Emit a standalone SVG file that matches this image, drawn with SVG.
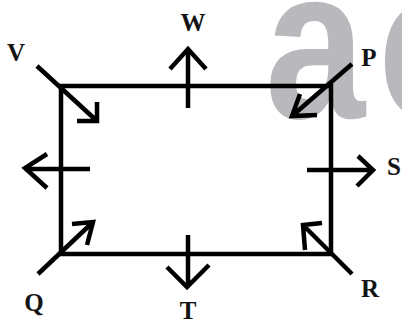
<svg xmlns="http://www.w3.org/2000/svg" width="402" height="323" viewBox="0 0 402 323">
<style>
.ln{fill:none;stroke:#000;stroke-width:4.5;stroke-linejoin:miter;stroke-linecap:butt}
.lb{font-family:"Liberation Serif","Times New Roman",serif;font-weight:bold;font-size:25px;fill:#141414;text-anchor:middle}
.wm{font-family:"Liberation Sans",Arial,sans-serif;font-weight:bold;font-size:180px;fill:#b9b9bd;letter-spacing:13px}
</style>
<rect width="402" height="323" fill="#fff"/>
<g id="watermark">
<text class="wm" transform="translate(265,118) scale(1,1.2)" x="0" y="0">ac</text>
</g>
<g id="frame">
<rect class="ln" x="61" y="86" width="270" height="168"/>
</g>
<g id="connectors">
<path class="ln" d="M37,66 L97,121 M97,102 L97,121 L77,121"/>
<path class="ln" d="M188,108 L188,50 M170,69 L188,49 L206,69"/>
<path class="ln" d="M352,64 L292,116 M300,94 L292,116 L317,115"/>
<path class="ln" d="M90,169 L27,169 M47,154 L25,168 L47,188"/>
<path class="ln" d="M307,170 L371,170 M358,156 L373,170 L357,186"/>
<path class="ln" d="M38,274 L93,222 M72,224 L93,222 L87,245"/>
<path class="ln" d="M188,235 L188,285 M167,267 L187,287 L209,265"/>
<path class="ln" d="M352,274 L303,225 M322,223 L303,225 L305,250"/>
</g>
<g id="node-V"><text class="lb" x="16" y="61">V</text></g>
<g id="node-W"><text class="lb" x="193" y="31">W</text></g>
<g id="node-P"><text class="lb" x="369" y="66">P</text></g>
<g id="node-S"><text class="lb" x="394" y="175">S</text></g>
<g id="node-R"><text class="lb" x="370" y="297">R</text></g>
<g id="node-T"><text class="lb" x="188" y="319">T</text></g>
<g id="node-Q"><text class="lb" x="34" y="311">Q</text></g>
</svg>
